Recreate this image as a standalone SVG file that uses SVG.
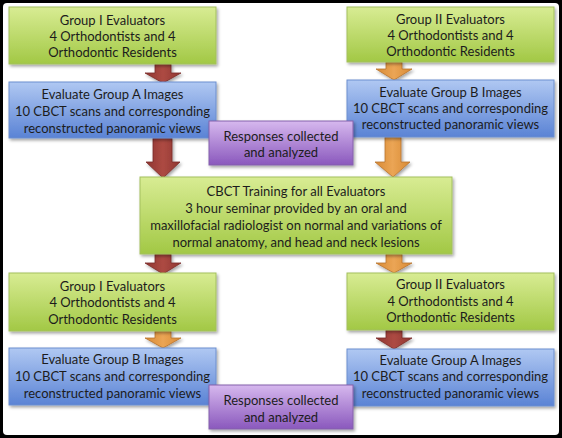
<svg xmlns="http://www.w3.org/2000/svg" width="562" height="438" viewBox="0 0 562 438">
<defs>
<linearGradient id="gG" x1="0" y1="0" x2="0" y2="1"><stop offset="0" stop-color="#d8ec93"/><stop offset="1" stop-color="#a2c845"/></linearGradient>
<linearGradient id="gB" x1="0" y1="0" x2="0" y2="1"><stop offset="0" stop-color="#b0c8f2"/><stop offset="1" stop-color="#5a83d5"/></linearGradient>
<linearGradient id="gP" x1="0" y1="0" x2="0" y2="1"><stop offset="0" stop-color="#d6b8ee"/><stop offset="1" stop-color="#8a58bd"/></linearGradient>
<linearGradient id="gR" x1="0" y1="0" x2="1" y2="0"><stop offset="0" stop-color="#8f3631"/><stop offset="0.5" stop-color="#ad4a43"/><stop offset="1" stop-color="#8f3631"/></linearGradient>
<linearGradient id="gO" x1="0" y1="0" x2="1" y2="0"><stop offset="0" stop-color="#d88a35"/><stop offset="0.5" stop-color="#eba555"/><stop offset="1" stop-color="#d88a35"/></linearGradient>
<filter id="sh" x="-10%" y="-10%" width="125%" height="140%"><feDropShadow dx="1.5" dy="2" stdDeviation="1.5" flood-color="#000" flood-opacity="0.35"/></filter>
</defs>
<style>
.g{fill:url(#gG);stroke:#a3c05e;stroke-width:1;filter:url(#sh)}
.b{fill:url(#gB);stroke:#6c8fcf;stroke-width:1;filter:url(#sh)}
.p{fill:url(#gP);stroke:#8461ab;stroke-width:1;filter:url(#sh)}
.ar{fill:url(#gR);stroke:#7a2c28;stroke-width:0.8;filter:url(#sh)}
.ao{fill:url(#gO);stroke:#b8732d;stroke-width:0.8;filter:url(#sh)}
text{font-family:Lato,"Open Sans","Liberation Sans",sans-serif;font-size:13px;fill:#1c1c1c;text-anchor:middle}
</style>
<rect x="0" y="0" width="562" height="438" fill="#000"/>
<rect x="3" y="3" width="556" height="432" rx="4" fill="#fff"/>

<g id="connectors">
<path class="ar" d="M155,64 H171 V73 H181 L163,83 L145,73 H155 Z"/>
<path class="ao" d="M386,62 H402 V69 H412 L394,80 L376,69 H386 Z"/>
<path class="ar" d="M153,138 H172 V162 H180 L163,178 L146,162 H153 Z"/>
<path class="ao" d="M385,137 H401 V162 H410 L393,177 L375,162 H385 Z"/>
<path class="ar" d="M155,254 H171 V263 H181 L163,274 L145,263 H155 Z"/>
<path class="ao" d="M386,254 H402 V263 H412 L394,273 L376,263 H386 Z"/>
<path class="ao" d="M155,331 H171 V338 H181 L163,348 L145,338 H155 Z"/>
<path class="ar" d="M386,330 H402 V338 H412 L394,349 L376,338 H386 Z"/>
</g>

<g id="g1top"><rect class="g" x="9" y="7" width="207" height="57"/>
<text x="112.5" y="25">Group I Evaluators</text><text x="112.5" y="41">4 Orthodontists and 4</text><text x="112.5" y="57">Orthodontic Residents</text></g>

<g id="g2top"><rect class="g" x="347" y="7" width="207" height="55"/>
<text x="450.5" y="24">Group II Evaluators</text><text x="450.5" y="40">4 Orthodontists and 4</text><text x="450.5" y="56">Orthodontic Residents</text></g>

<g id="evalA1"><rect class="b" x="9" y="82" width="207" height="56"/>
<text x="112.5" y="99">Evaluate Group A Images</text><text x="112.5" y="116">10 CBCT scans and corresponding</text><text x="112.5" y="133">reconstructed panoramic views</text></g>

<g id="evalB1"><rect class="b" x="347" y="80" width="207" height="57"/>
<text x="450.5" y="97">Evaluate Group B Images</text><text x="450.5" y="113">10 CBCT scans and corresponding</text><text x="450.5" y="129">reconstructed panoramic views</text></g>

<g id="resp1"><rect class="p" x="209" y="121" width="144" height="44"/>
<text x="281" y="141">Responses collected</text><text x="281" y="157">and analyzed</text></g>

<g id="training"><rect class="g" x="140" y="177" width="312" height="77"/>
<text x="296" y="196">CBCT Training for all Evaluators</text><text x="296" y="213">3 hour seminar provided by an oral and</text><text x="296" y="230">maxillofacial radiologist on normal and variations of</text><text x="296" y="247">normal anatomy, and head and neck lesions</text></g>

<g id="g1bot"><rect class="g" x="9" y="273" width="207" height="58"/>
<text x="112.5" y="291">Group I Evaluators</text><text x="112.5" y="307">4 Orthodontists and 4</text><text x="112.5" y="324">Orthodontic Residents</text></g>

<g id="g2bot"><rect class="g" x="347" y="273" width="207" height="57"/>
<text x="450.5" y="289">Group II Evaluators</text><text x="450.5" y="306">4 Orthodontists and 4</text><text x="450.5" y="322">Orthodontic Residents</text></g>

<g id="evalB2"><rect class="b" x="9" y="348" width="207" height="57"/>
<text x="112.5" y="364">Evaluate Group B Images</text><text x="112.5" y="381">10 CBCT scans and corresponding</text><text x="112.5" y="398">reconstructed panoramic views</text></g>

<g id="evalA2"><rect class="b" x="347" y="349" width="207" height="57"/>
<text x="450.5" y="365">Evaluate Group A Images</text><text x="450.5" y="381">10 CBCT scans and corresponding</text><text x="450.5" y="398">reconstructed panoramic views</text></g>

<g id="resp2"><rect class="p" x="209" y="385" width="144" height="44"/>
<text x="281" y="405">Responses collected</text><text x="281" y="422">and analyzed</text></g>
</svg>
